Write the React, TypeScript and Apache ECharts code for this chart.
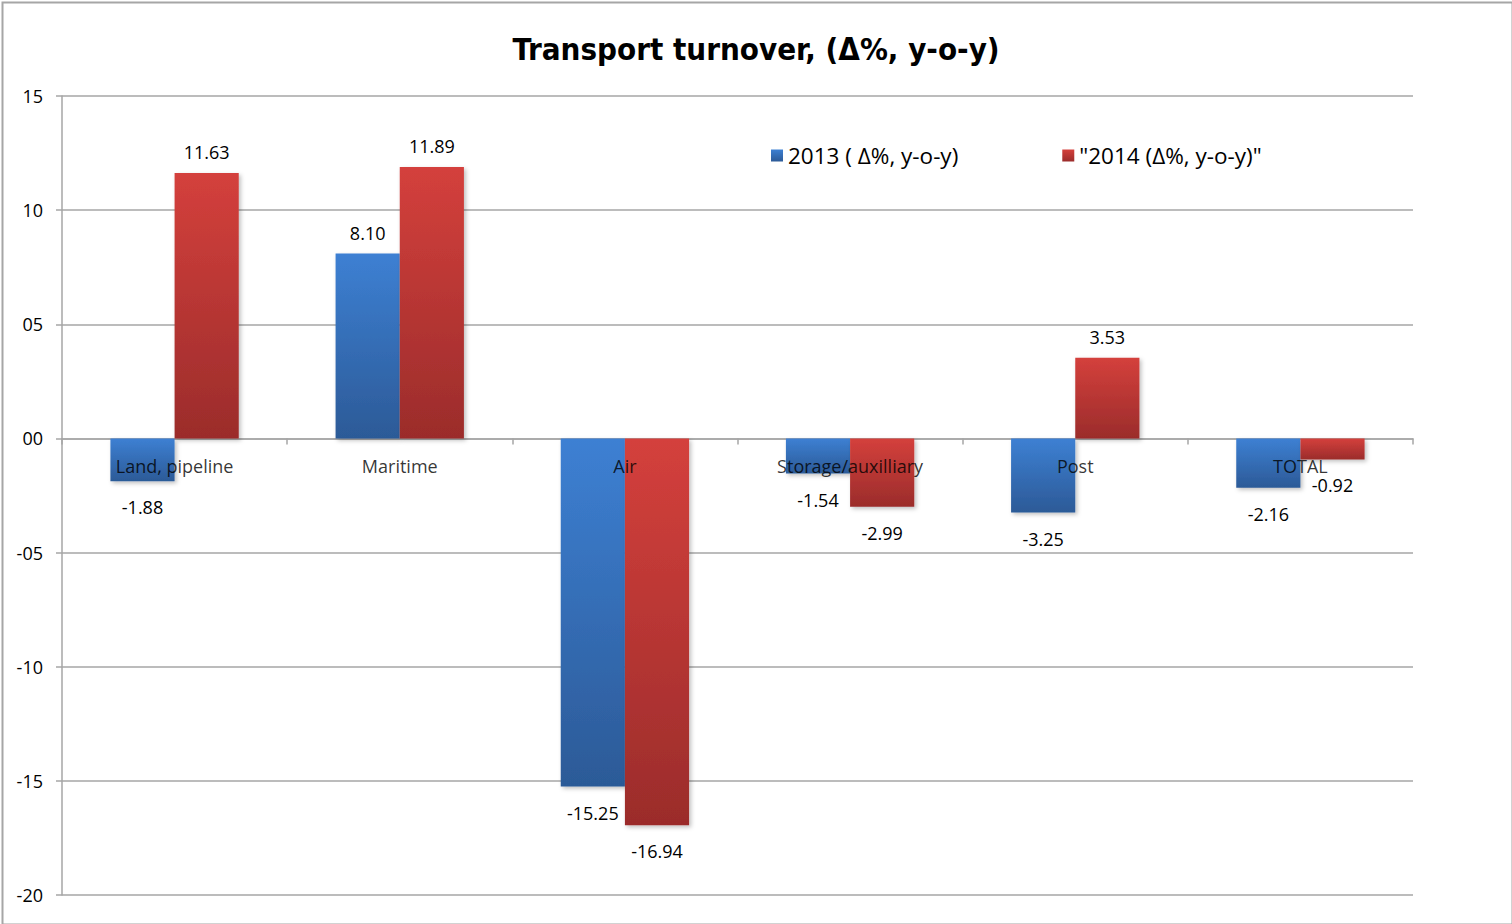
import React, { useEffect, useRef } from "react";
import * as echarts from "echarts";

const categories = ["Land, pipeline", "Maritime", "Air", "Storage/auxilliary", "Post", "TOTAL"];
const values2013 = [-1.88, 8.1, -15.25, -1.54, -3.25, -2.16];
const values2014 = [11.63, 11.89, -16.94, -2.99, 3.53, -0.92];
const seriesNames = ["2013 ( Δ%, y-o-y)", "\"2014 (Δ%, y-o-y)\""];
const categoryAnchor = [0, 0, 0, 0, 0, 0];

const fmtTick = (v: number) => (v < 0 ? "-" : "") + String(Math.abs(v)).padStart(2, "0");

const grad = (top: string, bottom: string) =>
  new echarts.graphic.LinearGradient(0, 0, 0, 1, [
    { offset: 0, color: top },
    { offset: 1, color: bottom },
  ]);

export default function App() {
  const ref = useRef<HTMLDivElement>(null);
  useEffect(() => {
    if (!ref.current) return;
    const chart = echarts.init(ref.current, undefined, { renderer: "svg" });
    const labelCommon = (v: number) => ({
      show: true,
      position: v >= 0 ? "top" : "bottom",
      distance: v >= 0 ? 12 : 17,
      color: "#000",
      fontSize: 18,
      fontFamily: "Open Sans",
      formatter: (p: any) => Number(p.value).toFixed(2),
    });
    const mk = (vals: number[]) =>
      vals.map((v) => ({ value: v, label: labelCommon(v) }));
    chart.setOption({
      animation: false,
      backgroundColor: "#fff",
      textStyle: { fontFamily: "Open Sans" },
      title: {
        text: "Transport turnover, (Δ%, y-o-y)",
        left: "center",
        top: 28,
        textStyle: {
          fontFamily: "DejaVu Sans Condensed",
          fontWeight: "bold",
          fontSize: 31,
          color: "#000",
        },
      },
      legend: {
        left: 766,
        top: 139,
        itemWidth: 12,
        itemHeight: 12,
        itemGap: 104,
        icon: "rect",
        textStyle: { fontSize: 22.5, color: "#000", fontFamily: "Open Sans" },
        data: seriesNames,
      },
      grid: { left: 62, right: 99, top: 96, bottom: 29, containLabel: false, outerBoundsMode: "none" },
      xAxis: {
        type: "category",
        data: categories,
        axisLine: { onZero: true, lineStyle: { color: "#a6a6a6", width: 1.5 } },
        axisTick: { show: true, alignWithLabel: false, length: 6, lineStyle: { color: "#a6a6a6", width: 1.5 } },
        axisLabel: { show: false },
        splitLine: { show: false },
      },
      yAxis: {
        type: "value",
        min: -20,
        max: 15,
        interval: 5,
        axisLine: { show: true, lineStyle: { color: "#a6a6a6", width: 1.5 } },
        axisTick: { show: true, length: 6, lineStyle: { color: "#a6a6a6", width: 1.5 } },
        axisLabel: { color: "#000", fontSize: 18, margin: 19, formatter: fmtTick, fontFamily: "Open Sans" },
        splitLine: { show: true, lineStyle: { color: "#a6a6a6", width: 1.5 } },
      },
      series: [
        {
          name: seriesNames[0],
          type: "bar",
          data: mk(values2013),
          barGap: "0%",
          barCategoryGap: "43%",
          itemStyle: {
            color: grad("#3d80d3", "#2c5a97"),
            shadowColor: "rgba(0,0,0,0.25)",
            shadowBlur: 4,
            shadowOffsetX: 2,
            shadowOffsetY: 2,
          },
        },
        {
          name: seriesNames[1],
          type: "bar",
          data: mk(values2014),
          barGap: "0%",
          barCategoryGap: "43%",
          itemStyle: {
            color: grad("#d4403c", "#9b2c2b"),
            shadowColor: "rgba(0,0,0,0.25)",
            shadowBlur: 4,
            shadowOffsetX: 2,
            shadowOffsetY: 2,
          },
        },
        {
          name: "categoryLabels",
          type: "scatter",
          data: categoryAnchor,
          symbolSize: 0,
          z: 10,
          silent: true,
          label: {
            show: true,
            position: "bottom",
            distance: 19,
            color: "#000",
            fontSize: 18,
            fontFamily: "Open Sans",
            formatter: (p: any) => categories[p.dataIndex],
          },
        },
      ],
      graphic: [
        {
          type: "rect",
          left: 0,
          top: 0,
          shape: { x: 1, y: 1, width: 1510, height: 922 },
          style: { fill: "none", stroke: "#a6a6a6", lineWidth: 2 },
          silent: true,
        },
      ],
    });
    return () => chart.dispose();
  }, []);
  return (
    <div
      ref={ref}
      style={{ position: "absolute", left: 0, top: 0, width: 1512, height: 924 }}
    />
  );
}
